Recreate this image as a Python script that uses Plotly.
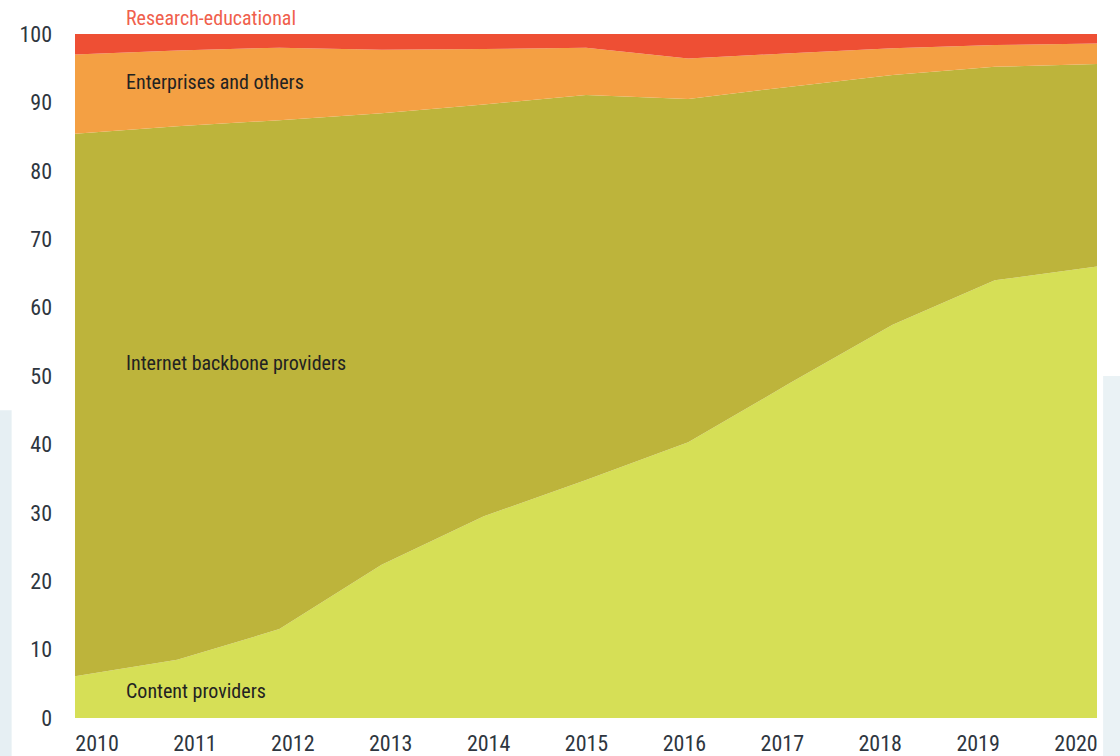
import plotly.graph_objects as go

years = [2010, 2011, 2012, 2013, 2014, 2015, 2016, 2017, 2018, 2019, 2020]
content = [6.1, 8.5, 13.0, 22.4, 29.5, 34.8, 40.3, 49.0, 57.5, 64.0, 66.0]
backbone = [79.3, 78.0, 74.4, 66.0, 60.2, 56.3, 50.2, 43.3, 36.5, 31.2, 29.6]
enterprises = [11.6, 11.1, 10.6, 9.3, 8.1, 6.9, 5.9, 4.9, 3.9, 3.2, 3.0]
research = [3.0, 2.4, 2.0, 2.3, 2.2, 2.0, 3.6, 2.8, 2.1, 1.6, 1.4]
series_names = ["Content providers", "Internet backbone providers",
                "Enterprises and others", "Research-educational"]
colors = ["#d6df56", "#bdb43b", "#f4a043", "#ee4f34"]
y_ticks = [0, 10, 20, 30, 40, 50, 60, 70, 80, 90, 100]

FONT = "Roboto Condensed, DejaVu Sans Condensed, sans-serif"
TXT = "#2e3640"

fig = go.Figure()
for name, vals, col in zip(series_names, [content, backbone, enterprises, research], colors):
    fig.add_trace(go.Scatter(
        x=years, y=vals, name=name, stackgroup="one", mode="none",
        fillcolor=col, line=dict(width=0), hoverinfo="x+y+name"))

# transparent trace carrying the tick-label axis
fig.add_trace(go.Scatter(x=years, y=content, xaxis="x2", mode="markers",
                         marker=dict(opacity=0), hoverinfo="skip", showlegend=False))

lab_font = dict(family=FONT, size=20, color="#222")
fig.add_annotation(x=2010.48, y=4.0, text="Content providers", showarrow=False,
                   xanchor="left", yanchor="middle", font=lab_font)
fig.add_annotation(x=2010.48, y=51.9, text="Internet backbone providers", showarrow=False,
                   xanchor="left", yanchor="middle", font=lab_font)
fig.add_annotation(x=2010.48, y=93.0, text="Enterprises and others", showarrow=False,
                   xanchor="left", yanchor="middle", font=lab_font)
fig.add_annotation(x=2010.48, y=1.024, yref="paper", text="Research-educational", showarrow=False,
                   xanchor="left", yanchor="middle",
                   font=dict(family=FONT, size=20, color="#f0604c"))

# faint decorative background bands at page edges
fig.add_shape(type="rect", xref="paper", yref="paper", x0=-0.075, x1=-0.062, y0=-0.06, y1=0.45,
              fillcolor="#e6eff3", line=dict(width=0), layer="below")
fig.add_shape(type="rect", xref="paper", yref="paper", x0=1.006, x1=1.03, y0=-0.06, y1=0.5,
              fillcolor="#eaf2f5", line=dict(width=0), layer="below")

fig.update_layout(
    width=1120, height=756,
    margin=dict(l=75, r=23, t=34, b=38, autoexpand=False),
    paper_bgcolor="white", plot_bgcolor="white",
    showlegend=False,
    font=dict(family=FONT, size=22, color=TXT),
    xaxis=dict(range=[2010, 2020], showticklabels=False, showgrid=False, zeroline=False,
               ticks="", showline=False, automargin=False),
    xaxis2=dict(range=[2009.775, 2020.2145], overlaying="x", anchor="y", side="bottom",
                tickvals=years, ticktext=[str(y) for y in years], showgrid=False,
                zeroline=False, ticks="", showline=False, ticklabelstandoff=10,
                automargin=False, tickfont=dict(family=FONT, size=22, color=TXT)),
    yaxis=dict(range=[0, 100], tickvals=y_ticks, showgrid=False, zeroline=False,
               ticks="", showline=False, ticklabelstandoff=22, automargin=False,
               tickfont=dict(family=FONT, size=22, color=TXT)),
)

fig.write_html("out.html")
